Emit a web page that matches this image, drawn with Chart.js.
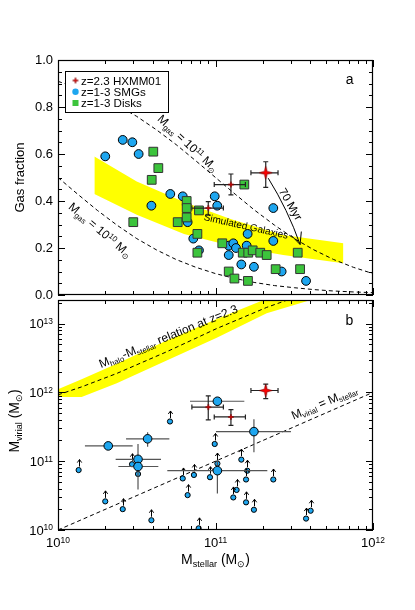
<!DOCTYPE html>
<html>
<head>
<meta charset="utf-8">
<script src="https://cdn.jsdelivr.net/npm/chart.js@4.4.0/dist/chart.umd.min.js"></script>
<style>
  html, body { margin: 0; padding: 0; background: #fff; }
  #wrap { position: relative; width: 415px; height: 610px; overflow: hidden; }
  #top { position: absolute; left: 0; top: 0; }
  #bot { position: absolute; left: 0; top: 294px; }
</style>
</head>
<body>
<div id="wrap">
  <canvas id="top" width="415" height="310"></canvas>
  <canvas id="bot" width="415" height="316"></canvas>
</div>
<script>
// stellar masses are log10(M/Msun)

// panel a: gas fraction
const smgLogMstar = [10.300, 10.411, 10.472, 10.512, 10.593, 10.713, 10.792, 10.823, 10.859, 10.895, 10.995, 11.011,
                     11.084, 11.113, 11.084, 11.130, 11.164, 11.204, 11.198, 11.244, 11.367, 11.367, 11.420, 11.575];
const smgFgas = [0.59, 0.66, 0.65, 0.60, 0.38, 0.43, 0.42, 0.31, 0.24, 0.19, 0.42, 0.38,
                 0.21, 0.22, 0.17, 0.20, 0.13, 0.26, 0.21, 0.12, 0.37, 0.23, 0.10, 0.06];

const diskLogMstar = [10.605, 10.637, 10.595, 10.478, 10.760, 10.817, 10.817, 10.817, 10.895, 10.885, 10.885, 11.043,
                      11.183, 11.084, 11.120, 11.173, 11.208, 11.236, 11.284, 11.325, 11.206, 11.382, 11.522, 11.537];
const diskFgas = [0.61, 0.54, 0.49, 0.31, 0.31, 0.40, 0.37, 0.33, 0.36, 0.26, 0.18, 0.22,
                  0.47, 0.10, 0.07, 0.18, 0.18, 0.19, 0.18, 0.17, 0.06, 0.11, 0.18, 0.11];

// HXMM01 and its two components
const hxLogMstar = [11.319, 11.098, 10.954];
const hxLogMstarLo = [11.225, 10.992, 10.85];
const hxLogMstarHi = [11.397, 11.19, 11.05];
const hxFgas = [0.52, 0.47, 0.37];
const hxFgasLo = [0.458, 0.426, 0.340];
const hxFgasHi = [0.567, 0.515, 0.397];
const hxLogMvir = [12.027, 11.643, 11.786];
const hxLogMvirLo = [11.91, 11.52, 11.60];
const hxLogMvirHi = [12.12, 11.75, 11.95];

// simulated galaxies band
const simLogMstar = [10.231, 10.5, 10.8, 11.1, 11.43, 11.812];
const simFgasHi = [0.589, 0.483, 0.396, 0.322, 0.255, 0.220];
const simFgasLo = [0.430, 0.342, 0.260, 0.208, 0.170, 0.135];

// constant gas mass curves
const gasLineLogMstar = [10, 10.125, 10.25, 10.375, 10.5, 10.625, 10.75, 10.875, 11,
                         11.125, 11.25, 11.375, 11.5, 11.625, 11.75, 11.875, 12];
const gas11Fgas = [0.909, 0.882, 0.849, 0.808, 0.760, 0.703, 0.640, 0.571, 0.500,
                   0.429, 0.360, 0.297, 0.240, 0.192, 0.151, 0.118, 0.091];
const gas10Fgas = [0.500, 0.429, 0.360, 0.297, 0.240, 0.192, 0.151, 0.118, 0.091,
                   0.070, 0.053, 0.040, 0.031, 0.023, 0.017, 0.013, 0.010];

// panel b: virial mass
const bigLogMstar = [10.319, 10.569, 10.508, 10.508, 11.012, 11.244, 11.012];
const bigLogMstarLo = [10.171, 10.432, 10.366, 10.383, 10.838, 11.003, 10.694];
const bigLogMstarHi = [10.474, 10.707, 10.654, 10.637, 11.183, 11.479, 11.329];
const bigLogMvir = [11.222, 11.325, 11.027, 10.923, 11.871, 11.430, 10.862];
const bigLogMvirLo = [11.222, 11.21, 10.59, 10.923, 11.80, 11.13, 10.53];
const bigLogMvirHi = [11.222, 11.42, 11.25, 10.923, 11.92, 11.61, 11.02];

const limLogMstar = [10.131, 10.300, 10.411, 10.593, 10.711, 10.792, 10.823, 10.863, 10.893, 10.965, 10.995, 11.012,
                     11.113, 11.134, 11.164, 11.194, 11.202, 11.194, 11.244, 11.367, 11.575, 11.604, 10.470, 10.508];
const limLogMvir = [10.871, 10.416, 10.303, 10.142, 11.577, 10.749, 10.507, 10.800, 10.024, 10.767, 11.250, 10.966,
                    10.473, 10.582, 11.023, 10.734, 10.862, 10.402, 10.294, 10.734, 10.166, 10.280, 10.956, 10.814];

const haloLogMstar = [10.0, 10.15, 10.373, 10.69, 11.008, 11.325, 11.60];
const haloLogMvirHi = [12.045, 12.19, 12.416, 12.754, 13.068, 13.36, 13.64];
const haloLogMvirLo = [11.932, 11.932, 12.131, 12.462, 12.794, 13.149, 13.338];
const haloLogMvirMid = [11.964, 12.08, 12.275, 12.59, 12.928, 13.235, 13.46];

const oneToOneLogM = [10, 12];

const xTickExp = [10, 11, 12];
const yTickExp = [10, 11, 12, 13];

const FONT = '"Liberation Sans", Arial, Helvetica, sans-serif';
const BLUE = '#1ea6ef';
const GREEN = '#3cc43c';
const DEG = Math.PI / 180;
const p10 = v => Math.pow(10, v);
const xy = (xs, ys, logY) => xs.map((v, i) => ({ x: p10(v), y: logY ? p10(ys[i]) : ys[i] }));

function starCanvas(size) {
  const c = document.createElement('canvas');
  c.width = c.height = size + 2;
  const g = c.getContext('2d');
  const h = (size + 2) / 2, R = size / 2, r = R * 0.3;
  g.beginPath();
  for (let k = 0; k < 8; k++) {
    const ang = -Math.PI / 2 + k * Math.PI / 4;
    const rr = k % 2 === 0 ? R : r;
    g.lineTo(h + rr * Math.cos(ang), h + rr * Math.sin(ang));
  }
  g.closePath();
  g.fillStyle = '#ff0000';
  g.fill();
  g.strokeStyle = '#700';
  g.lineWidth = 0.6;
  g.stroke();
  return c;
}
const bigStar = starCanvas(13);
const smallStar = starCanvas(6);

// text with sub/superscripts, centred vertically on the main text
function drawRich(ctx, parts, x, y, size, align, angle) {
  ctx.save();
  ctx.translate(x, y);
  ctx.rotate(angle || 0);
  let w = 0;
  const items = parts.map(([t, k]) => {
    const s = k ? size * 0.65 : size;
    ctx.font = s + 'px ' + FONT;
    const m = ctx.measureText(t).width;
    w += m;
    return { t, k, s, m };
  });
  let cx = align === 'center' ? -w / 2 : align === 'right' ? -w : 0;
  ctx.textAlign = 'left';
  ctx.textBaseline = 'alphabetic';
  ctx.fillStyle = '#000';
  const base = size * 0.36;
  items.forEach(it => {
    ctx.font = it.s + 'px ' + FONT;
    let dy = base;
    if (it.k === 'sub') dy += size * 0.2;
    if (it.k === 'sup') dy -= size * 0.33;
    ctx.fillText(it.t, cx, dy);
    cx += it.m;
  });
  ctx.restore();
}

function frame(chart, yTicks) {
  const { ctx, chartArea: a, scales: { x, y } } = chart;
  ctx.save();
  ctx.strokeStyle = '#000';
  ctx.lineWidth = 1;
  ctx.beginPath();
  const xt = [];
  for (let e = 10; e < 12; e++) for (let m = 1; m < 10; m++) xt.push([m * p10(e), m === 1]);
  xt.push([1e12, true]);
  xt.forEach(([v, major]) => {
    const px = Math.round(x.getPixelForValue(v)) + 0.5;
    const L = major ? 7 : 4;
    ctx.moveTo(px, a.bottom); ctx.lineTo(px, a.bottom - L);
    ctx.moveTo(px, a.top); ctx.lineTo(px, a.top + L);
  });
  yTicks.forEach(([v, major]) => {
    const py = Math.round(y.getPixelForValue(v)) + 0.5;
    const L = major ? 7 : 4;
    ctx.moveTo(a.left, py); ctx.lineTo(a.left + L, py);
    ctx.moveTo(a.right, py); ctx.lineTo(a.right - L, py);
  });
  ctx.stroke();
  ctx.lineWidth = 1.2;
  ctx.strokeRect(Math.round(a.left) + 0.5, Math.round(a.top) + 0.5,
                 Math.round(a.right - a.left) - 1, Math.round(a.bottom - a.top) - 1);
  ctx.restore();
}

const topYTicks = [];
for (let k = 0; k <= 20; k++) topYTicks.push([k * 0.05, k % 4 === 0]);
const botYTicks = [];
for (let e = 10; e <= 13; e++) for (let m = 1; m < 10; m++) if (m * p10(e) <= 2.2e13) botYTicks.push([m * p10(e), m === 1]);

// error bars before points, upper-limit arrows after
const errPlugin = {
  id: 'errs',
  beforeDatasetDraw(chart, args) {
    const ds = chart.data.datasets[args.index];
    if (!ds.errs) return;
    const { ctx, scales: { x, y } } = chart;
    const E = ds.errs, cap = ds.cap || 0;
    const yv = v => y.getPixelForValue(E.logY ? p10(v) : v);
    ctx.save();
    ctx.strokeStyle = ds.errColor;
    ctx.lineWidth = 1.2;
    ctx.beginPath();
    ds.data.forEach((d, i) => {
      const cx = x.getPixelForValue(d.x), cy = y.getPixelForValue(d.y);
      const l = x.getPixelForValue(p10(E.xl[i])), r = x.getPixelForValue(p10(E.xh[i]));
      ctx.moveTo(l, cy); ctx.lineTo(r, cy);
      const t = yv(E.yh[i]), b = yv(E.yl[i]);
      if (b - t > 0.5) { ctx.moveTo(cx, t); ctx.lineTo(cx, b); }
      if (cap) {
        ctx.moveTo(l, cy - cap); ctx.lineTo(l, cy + cap);
        ctx.moveTo(r, cy - cap); ctx.lineTo(r, cy + cap);
        ctx.moveTo(cx - cap, t); ctx.lineTo(cx + cap, t);
        ctx.moveTo(cx - cap, b); ctx.lineTo(cx + cap, b);
      }
    });
    ctx.stroke();
    ctx.restore();
  },
  afterDatasetDraw(chart, args) {
    const ds = chart.data.datasets[args.index];
    if (!ds.upArrows) return;
    const ctx = chart.ctx;
    ctx.save();
    ctx.strokeStyle = '#000';
    ctx.lineWidth = 1;
    ctx.beginPath();
    args.meta.data.forEach(pt => {
      const x0 = Math.round(pt.x) + 0.5, y0 = pt.y - 3.5, y1 = y0 - 7;
      ctx.moveTo(x0, y0); ctx.lineTo(x0, y1);
      ctx.moveTo(x0 - 2.2, y1 + 3); ctx.lineTo(x0, y1); ctx.lineTo(x0 + 2.2, y1 + 3);
    });
    ctx.stroke();
    ctx.restore();
  }
};

const topDecor = {
  id: 'topDecor',
  afterDatasetsDraw(chart) {
    const { ctx, scales: { x, y } } = chart;
    const at = (lm, v) => [x.getPixelForValue(p10(lm)), y.getPixelForValue(v)];
    frame(chart, topYTicks);

    let [px, py] = at(11.194, 0.294);
    drawRich(ctx, [['Simulated Galaxies', '']], px, py, 10, 'center', 12.5 * DEG);
    [px, py] = at(10.827, 0.646);
    drawRich(ctx, [['M', ''], ['gas', 'sub'], [' = 10', ''], ['11', 'sup'], [' M', ''], ['\u2299', 'sub']], px, py, 12, 'center', 43 * DEG);
    [px, py] = at(10.270, 0.277);
    drawRich(ctx, [['M', ''], ['gas', 'sub'], [' = 10', ''], ['10', 'sup'], [' M', ''], ['\u2299', 'sub']], px, py, 12, 'center', 40 * DEG);
    [px, py] = at(11.479, 0.387);
    drawRich(ctx, [['70 Myr', '']], px, py, 11.5, 'center', 60 * DEG);
    [px, py] = at(11.852, 0.915);
    drawRich(ctx, [['a', '']], px, py - 1, 14, 'center', 0);

    // 70 Myr arrow
    const [sx, sy] = at(11.335, 0.497);
    const [ex, ey] = at(11.537, 0.215);
    const len = Math.hypot(ex - sx, ey - sy);
    const ux = (ex - sx) / len, uy = (ey - sy) / len;
    const qx = (sx + ex) / 2 + uy * 4, qy = (sy + ey) / 2 - ux * 4;
    ctx.save();
    ctx.strokeStyle = '#000';
    ctx.lineWidth = 1;
    ctx.beginPath();
    ctx.moveTo(sx, sy);
    ctx.quadraticCurveTo(qx, qy, ex, ey);
    const ang = Math.atan2(ey - qy, ex - qx);
    [25, -25].forEach(d => {
      const a2 = ang + Math.PI + d * DEG;
      ctx.moveTo(ex, ey);
      ctx.lineTo(ex + 13 * Math.cos(a2), ey + 13 * Math.sin(a2));
    });
    ctx.stroke();
    ctx.restore();
  },
  afterDraw(chart) {
    const ctx = chart.ctx;
    ctx.save();
    ctx.fillStyle = '#fff';
    ctx.fillRect(65, 71, 103, 42);
    ctx.strokeStyle = '#000';
    ctx.lineWidth = 1;
    ctx.strokeRect(65.5, 71.5, 103, 41);
    ctx.drawImage(smallStar, 75.5 - smallStar.width / 2, 80.5 - smallStar.height / 2);
    ctx.fillStyle = BLUE;
    ctx.beginPath();
    ctx.arc(75.5, 91.8, 3.2, 0, 2 * Math.PI);
    ctx.fill();
    ctx.fillStyle = GREEN;
    ctx.fillRect(72.5, 100, 6, 6);
    ctx.restore();
    drawRich(ctx, [['z=2.3 HXMM01', '']], 81, 80.5, 11.6, 'left', 0);
    drawRich(ctx, [['z=1-3 SMGs', '']], 81, 91.8, 11.6, 'left', 0);
    drawRich(ctx, [['z=1-3 Disks', '']], 81, 103, 11.6, 'left', 0);
  }
};

const botDecor = {
  id: 'botDecor',
  afterDatasetsDraw(chart) {
    const { ctx, chartArea: a, scales: { x, y } } = chart;
    const at = (lm, lv) => [x.getPixelForValue(p10(lm)), y.getPixelForValue(p10(lv))];
    frame(chart, botYTicks);

    yTickExp.forEach(e => {
      drawRich(ctx, [['10', ''], [String(e), 'sup']], a.left - 5, y.getPixelForValue(p10(e)), 13, 'right', 0);
    });
    xTickExp.forEach(e => {
      drawRich(ctx, [['10', ''], [String(e), 'sup']], x.getPixelForValue(p10(e)), a.bottom + 12.5, 13, 'center', 0);
    });
    drawRich(ctx, [['M', ''], ['stellar', 'sub'], [' (M', ''], ['\u2299', 'sub'], [')', '']],
             (a.left + a.right) / 2, a.bottom + 29, 14, 'center', 0);
    drawRich(ctx, [['M', ''], ['virial', 'sub'], [' (M', ''], ['\u2299', 'sub'], [')', '']],
             14, (a.top + a.bottom) / 2 + 6, 14, 'center', -90 * DEG);

    let [px, py] = at(10.70, 12.82);
    drawRich(ctx, [['M', ''], ['halo', 'sub'], ['-M', ''], ['stellar', 'sub'], [' relation at z=2.3', '']], px, py, 12, 'center', -22.2 * DEG);
    [px, py] = at(11.69, 11.86);
    drawRich(ctx, [['M', ''], ['virial', 'sub'], [' = M', ''], ['stellar', 'sub']], px, py, 12, 'center', -23 * DEG);
    [px, py] = at(11.850, 13.05);
    drawRich(ctx, [['b', '']], px, py, 14, 'center', 0);
  }
};

const common = {
  responsive: false,
  animation: false,
  events: [],
  plugins: { legend: { display: false }, tooltip: { enabled: false } }
};

new Chart(document.getElementById('top'), {
  type: 'scatter',
  data: {
    datasets: [
      { type: 'line', data: xy(simLogMstar, simFgasHi), borderWidth: 0, pointRadius: 0, fill: '+1',
        backgroundColor: '#ffff00', order: 10, clip: 0 },
      { type: 'line', data: xy(simLogMstar, simFgasLo), borderWidth: 0, pointRadius: 0, fill: false, order: 10, clip: 0 },
      { type: 'line', data: xy(gasLineLogMstar, gas11Fgas), borderColor: '#000', borderWidth: 1, borderDash: [4, 3],
        pointRadius: 0, fill: false, order: 5, clip: 0 },
      { type: 'line', data: xy(gasLineLogMstar, gas10Fgas), borderColor: '#000', borderWidth: 1, borderDash: [4, 3],
        pointRadius: 0, fill: false, order: 5, clip: 0 },
      { data: xy(smgLogMstar, smgFgas), pointStyle: 'circle', pointRadius: 4.4, backgroundColor: BLUE,
        borderColor: '#000', borderWidth: 1, order: 3 },
      { data: xy(diskLogMstar, diskFgas), pointStyle: 'rect', pointRadius: 6.2, backgroundColor: GREEN,
        borderColor: '#333', borderWidth: 1, order: 2 },
      { data: xy(hxLogMstar, hxFgas), pointStyle: c => c.dataIndex === 0 ? bigStar : smallStar, pointRadius: 5,
        order: 1, errColor: '#222', cap: 2.5,
        errs: { xl: hxLogMstarLo, xh: hxLogMstarHi, yl: hxFgasLo, yh: hxFgasHi, logY: false } }
    ]
  },
  options: Object.assign({}, common, {
    layout: { padding: { left: 0, right: 42, top: 60, bottom: 15 } },
    scales: {
      x: { type: 'logarithmic', min: 1e10, max: 1e12, display: false },
      y: {
        type: 'linear', min: 0, max: 1,
        afterFit: s => { s.width = 58; },
        grid: { display: false, drawTicks: false },
        border: { display: false },
        ticks: { stepSize: 0.2, padding: 5, color: '#000', font: { family: FONT, size: 13 },
                 callback: v => v.toFixed(1) },
        title: { display: true, text: 'Gas fraction', color: '#000', font: { family: FONT, size: 13 },
                 padding: { top: 13, bottom: 0 } }
      }
    }
  }),
  plugins: [errPlugin, topDecor]
});

new Chart(document.getElementById('bot'), {
  type: 'scatter',
  data: {
    datasets: [
      { type: 'line', data: xy(haloLogMstar, haloLogMvirHi, true), borderWidth: 0, pointRadius: 0, fill: '+1',
        backgroundColor: '#ffff00', order: 10, clip: 0 },
      { type: 'line', data: xy(haloLogMstar, haloLogMvirLo, true), borderWidth: 0, pointRadius: 0, fill: false, order: 10, clip: 0 },
      { type: 'line', data: xy(haloLogMstar, haloLogMvirMid, true), borderColor: '#000', borderWidth: 1, borderDash: [4, 3],
        pointRadius: 0, fill: false, order: 5, clip: 0 },
      { type: 'line', data: xy(oneToOneLogM, oneToOneLogM, true), borderColor: '#000', borderWidth: 1, borderDash: [4, 3],
        pointRadius: 0, fill: false, order: 5, clip: 0 },
      { data: xy(limLogMstar, limLogMvir, true), pointStyle: 'circle', pointRadius: 2.6, backgroundColor: BLUE,
        borderColor: '#000', borderWidth: 1, order: 3, upArrows: true },
      { data: xy(bigLogMstar, bigLogMvir, true), pointStyle: 'circle', pointRadius: 4.3, backgroundColor: BLUE,
        borderColor: '#000', borderWidth: 1, order: 2, errColor: '#555',
        errs: { xl: bigLogMstarLo, xh: bigLogMstarHi, yl: bigLogMvirLo, yh: bigLogMvirHi, logY: true } },
      { data: xy(hxLogMstar, hxLogMvir, true), pointStyle: c => c.dataIndex === 0 ? bigStar : smallStar, pointRadius: 5,
        order: 1, errColor: '#222', cap: 2.5,
        errs: { xl: hxLogMstarLo, xh: hxLogMstarHi, yl: hxLogMvirLo, yh: hxLogMvirHi, logY: true } }
    ]
  },
  options: Object.assign({}, common, {
    layout: { padding: { left: 58, right: 42, top: 1, bottom: 80 } },
    scales: {
      x: { type: 'logarithmic', min: 1e10, max: 1e12, display: false },
      y: { type: 'logarithmic', min: 1e10, max: 2.2e13, display: false }
    }
  }),
  plugins: [errPlugin, botDecor]
});
</script>
</body>
</html>
